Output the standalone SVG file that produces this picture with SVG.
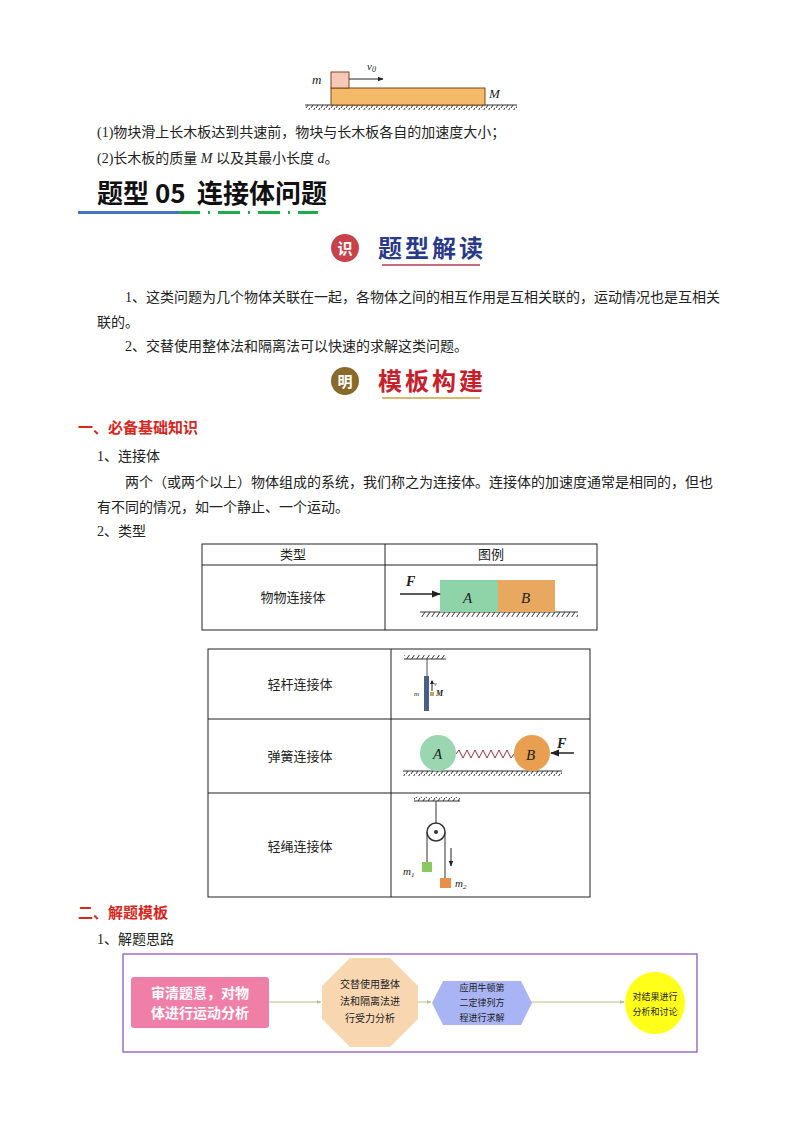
<svg xmlns="http://www.w3.org/2000/svg" width="800" height="1134" viewBox="0 0 800 1134">
<style>
.t{font-family:"Liberation Serif","Noto Sans CJK SC",serif;font-size:14px;fill:#222}
.s{font-family:"Noto Sans CJK SC",sans-serif;fill:#222}
.i{font-family:"Liberation Serif",serif;font-style:italic;fill:#222}
.red{font-family:"Noto Sans CJK SC",sans-serif;font-size:15px;font-weight:bold;fill:#d9261c}
.cell{fill:none;stroke:#222;stroke-width:1}
.hatch{stroke:#333;stroke-width:1}
.fl{stroke:#b9bd8a;stroke-width:1;fill:none}
</style>
<defs>
<pattern id="h" width="5" height="6" patternUnits="userSpaceOnUse"><path d="M5 0 L1 6" stroke="#333" stroke-width="1"/></pattern>
<marker id="ar" viewBox="0 0 10 10" refX="9" refY="5" markerWidth="6" markerHeight="6" orient="auto"><path d="M0 1 L10 5 L0 9z" fill="#222"/></marker>
<marker id="fa" viewBox="0 0 10 10" refX="9" refY="5" markerWidth="5" markerHeight="5" orient="auto"><path d="M0 1 L10 5 L0 9z" fill="#b9bd8a"/></marker>
</defs>
<rect width="800" height="1134" fill="#fff"/>
<g id="fig-top">
<rect x="305" y="105" width="212" height="5" fill="url(#h)"/><line x1="305" y1="105" x2="517" y2="105" class="hatch"/>
<rect x="331" y="88" width="154" height="17" fill="#f5b96a" stroke="#7a4a1a"/>
<rect x="331" y="72" width="18" height="16" fill="#f7c8b8" stroke="#7a4a1a"/>
<line x1="349" y1="79" x2="383" y2="79" stroke="#222" marker-end="url(#ar)"/>
<text x="312" y="84" class="i" font-size="13">m</text>
<text x="367" y="70" class="i" font-size="11">v<tspan font-size="8" dy="2">0</tspan></text>
<text x="489" y="98" class="i" font-size="13">M</text>
</g>
<text x="97" y="137" class="t">(1)物块滑上长木板达到共速前，物块与长木板各自的加速度大小；</text>
<text x="97" y="163" class="t">(2)长木板的质量 <tspan class="i">M</tspan> 以及其最小长度 <tspan class="i">d</tspan>。</text>
<text x="97" y="203" font-family="Noto Sans CJK SC,sans-serif" font-size="26" font-weight="bold" fill="#111">题型 05</text>
<text x="197" y="203" font-family="Noto Sans CJK SC,sans-serif" font-size="26" font-weight="bold" fill="#111">连接体问题</text>
<rect x="78" y="211" width="101" height="3" fill="#4472c4"/>
<g fill="#1eaa4a"><rect x="179" y="211" width="21" height="3"/><rect x="208" y="211" width="2" height="3"/><rect x="218" y="211" width="22" height="3"/><rect x="248" y="211" width="2" height="3"/><rect x="258" y="211" width="22" height="3"/><rect x="288" y="211" width="2" height="3"/><rect x="298" y="211" width="20" height="3"/></g>
<g id="badge1">
<circle cx="345" cy="248" r="14" fill="#c8424a"/><text x="345" y="254" text-anchor="middle" font-family="Noto Sans CJK SC,sans-serif" font-size="15" font-weight="bold" fill="#fff">识</text>
<text x="378" y="257" font-family="Noto Sans CJK SC,sans-serif" font-size="24" font-weight="bold" fill="#2a3a8a" letter-spacing="3">题型解读</text>
<line x1="382" y1="265" x2="480" y2="265" stroke="#b04050" stroke-width="1.5"/>
</g>
<text x="125" y="302" class="t">1、这类问题为几个物体关联在一起，各物体之间的相互作用是互相关联的，运动情况也是互相关</text>
<text x="97" y="327" class="t">联的。</text>
<text x="125" y="351" class="t">2、交替使用整体法和隔离法可以快速的求解这类问题。</text>
<g id="badge2">
<circle cx="345" cy="381" r="14" fill="#8a6a2a"/><text x="345" y="387" text-anchor="middle" font-family="Noto Sans CJK SC,sans-serif" font-size="15" font-weight="bold" fill="#fff">明</text>
<text x="378" y="390" font-family="Noto Sans CJK SC,sans-serif" font-size="24" font-weight="bold" fill="#c8202a" letter-spacing="3">模板构建</text>
<line x1="382" y1="398" x2="480" y2="398" stroke="#c8a040" stroke-width="1.5"/>
</g>
<text x="78" y="433" class="red">一、必备基础知识</text>
<text x="97" y="461" class="t">1、连接体</text>
<text x="125" y="487" class="t">两个（或两个以上）物体组成的系统，我们称之为连接体。连接体的加速度通常是相同的，但也</text>
<text x="97" y="512" class="t">有不同的情况，如一个静止、一个运动。</text>
<text x="97" y="536" class="t">2、类型</text>
<g id="table1">
<rect x="202" y="544" width="395" height="86" class="cell"/>
<line x1="202" y1="565" x2="597" y2="565" class="cell"/><line x1="385" y1="544" x2="385" y2="630" class="cell"/>
<text x="293" y="559" class="s" font-size="13" text-anchor="middle">类型</text>
<text x="491" y="559" class="s" font-size="13" text-anchor="middle">图例</text>
<text x="293" y="602" class="s" font-size="13" text-anchor="middle">物物连接体</text>
<rect x="420" y="612" width="158" height="5" fill="url(#h)"/><line x1="420" y1="612" x2="578" y2="612" class="hatch"/>
<rect x="440" y="580" width="58" height="32" fill="#8fd4a8"/>
<rect x="498" y="580" width="57" height="32" fill="#e8a860"/>
<line x1="400" y1="594" x2="440" y2="594" stroke="#222" stroke-width="1.5" marker-end="url(#ar)"/>
<text x="406" y="586" class="i" font-size="14" font-weight="bold">F</text>
<text x="463" y="603" class="i" font-size="15">A</text>
<text x="521" y="603" class="i" font-size="15">B</text>
</g>
<g id="table2">
<rect x="208" y="649" width="382" height="248" class="cell"/>
<line x1="208" y1="719" x2="590" y2="719" class="cell"/><line x1="208" y1="793" x2="590" y2="793" class="cell"/>
<line x1="391" y1="649" x2="391" y2="897" class="cell"/>
<text x="300" y="689" class="s" font-size="13" text-anchor="middle">轻杆连接体</text>
<text x="300" y="761" class="s" font-size="13" text-anchor="middle">弹簧连接体</text>
<text x="300" y="851" class="s" font-size="13" text-anchor="middle">轻绳连接体</text>
<rect x="404" y="655" width="42" height="4" fill="url(#h)"/><line x1="404" y1="659" x2="446" y2="659" class="hatch"/>
<line x1="427" y1="659" x2="427" y2="676" stroke="#555"/>
<rect x="424" y="676" width="5" height="35" fill="#4a5e8a"/>
<line x1="432" y1="691" x2="432" y2="681" stroke="#222"/>
<path d="M430 684 L432 680 L434 684z" fill="#222"/>
<text x="434" y="686" class="i" font-size="6">v</text>
<text x="414" y="696" class="i" font-size="7">m</text>
<rect x="430" y="692" width="4" height="4" fill="#c8a060"/>
<text x="436" y="696" class="i" font-size="8" font-weight="bold">M</text>
<rect x="403" y="771" width="159" height="5" fill="url(#h)"/><line x1="403" y1="771" x2="562" y2="771" class="hatch"/>
<polyline points="456,754 459,750 463,758 467,750 471,758 475,750 479,758 483,750 487,758 491,750 495,758 499,750 503,758 507,750 511,758 514,754" fill="none" stroke="#a03040"/>
<circle cx="438" cy="753" r="18" fill="#9ad6b0"/>
<circle cx="532" cy="753" r="18" fill="#e8a050"/>
<text x="433" y="759" class="i" font-size="15">A</text>
<text x="526" y="760" class="i" font-size="15">B</text>
<line x1="574" y1="753" x2="551" y2="753" stroke="#222" stroke-width="1.5" marker-end="url(#ar)"/>
<text x="557" y="748" class="i" font-size="14" font-weight="bold">F</text>
<rect x="414" y="797" width="46" height="4" fill="url(#h)"/><line x1="414" y1="801" x2="460" y2="801" class="hatch"/>
<line x1="436" y1="801" x2="436" y2="823" stroke="#333"/>
<circle cx="436" cy="832" r="9" fill="#fff" stroke="#333" stroke-width="1.5"/>
<circle cx="436" cy="832" r="2" fill="#333"/>
<line x1="427" y1="832" x2="427" y2="862" stroke="#333"/><line x1="445" y1="832" x2="445" y2="878" stroke="#333"/>
<rect x="422" y="862" width="10" height="10" fill="#8cc860"/>
<rect x="440" y="878" width="11" height="10" fill="#e8904a"/>
<line x1="451" y1="848" x2="451" y2="866" stroke="#222" marker-end="url(#ar)"/>
<text x="403" y="875" class="i" font-size="11">m<tspan font-size="7" dy="2">1</tspan></text>
<text x="455" y="887" class="i" font-size="11">m<tspan font-size="7" dy="2">2</tspan></text>
</g>
<text x="78" y="918" class="red">二、解题模板</text>
<text x="97" y="944" class="t">1、解题思路</text>
<g id="flow-frame"><rect x="123" y="954" width="574" height="98" fill="none" stroke="#9a70c8" stroke-width="1.5"/></g>
<g id="connectors">
<line x1="269" y1="1002" x2="321" y2="1002" class="fl" marker-end="url(#fa)"/>
<line x1="418" y1="1002" x2="431" y2="1002" class="fl" marker-end="url(#fa)"/>
<line x1="531" y1="1002" x2="624" y2="1002" class="fl" marker-end="url(#fa)"/>
</g>
<g id="n1"><rect x="131" y="977" width="138" height="51" rx="3" fill="#f07fa8"/>
<text x="200" y="998" text-anchor="middle" class="s" font-size="14" font-weight="bold" style="fill:#fff">审清题意，对物</text>
<text x="200" y="1018" text-anchor="middle" class="s" font-size="14" font-weight="bold" style="fill:#fff">体进行运动分析</text></g>
<g id="n2"><polygon points="350,958 390,958 418,986 418,1019 390,1047 350,1047 322,1019 322,986" fill="#f8d6b0"/>
<text x="370" y="988" text-anchor="middle" class="s" font-size="10">交替使用整体</text>
<text x="370" y="1005" text-anchor="middle" class="s" font-size="10">法和隔离法进</text>
<text x="370" y="1022" text-anchor="middle" class="s" font-size="10">行受力分析</text></g>
<g id="n3"><polygon points="443,981 521,981 532,1003 521,1025 443,1025 432,1003" fill="#a9b4f4"/>
<text x="482" y="991" text-anchor="middle" class="s" font-size="9">应用牛顿第</text>
<text x="482" y="1006" text-anchor="middle" class="s" font-size="9">二定律列方</text>
<text x="482" y="1021" text-anchor="middle" class="s" font-size="9">程进行求解</text></g>
<g id="n4"><ellipse cx="655" cy="1003" rx="30" ry="31" fill="#ffff1a"/>
<text x="655" y="1000" text-anchor="middle" class="s" font-size="9">对结果进行</text>
<text x="655" y="1015" text-anchor="middle" class="s" font-size="9">分析和讨论</text></g>
</svg>
